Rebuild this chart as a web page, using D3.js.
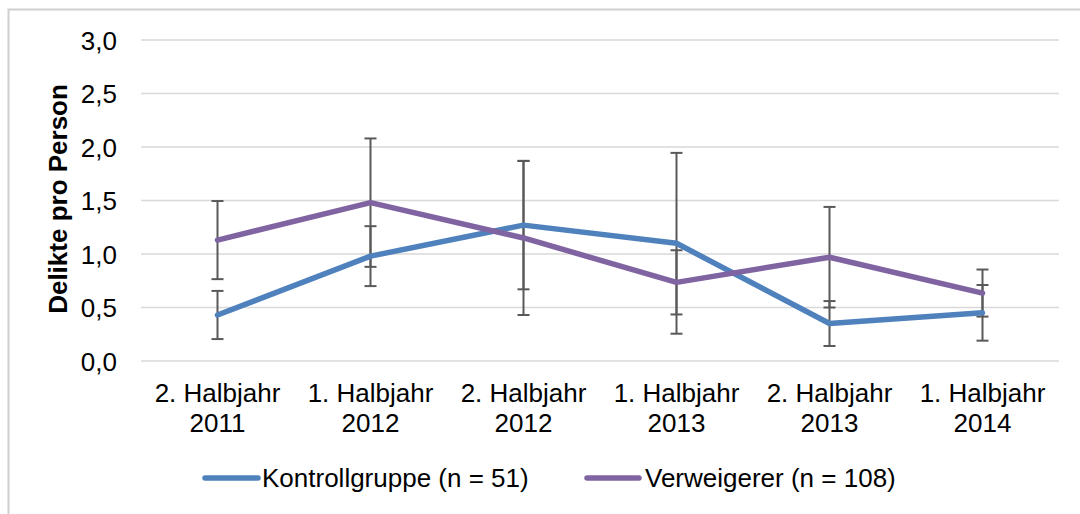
<!DOCTYPE html>
<html>
<head>
<meta charset="utf-8">
<script src="https://cdn.jsdelivr.net/npm/d3@7"></script>
<style>
  body { margin: 0; background: #fff; }
  svg { display: block; font-family: "Liberation Sans", Arial, sans-serif; }
</style>
</head>
<body>
<div id="chart"></div>
<script>
// Delikte pro Person, Halbjahre 2011-2014
const categories = [
  ["2. Halbjahr", "2011"],
  ["1. Halbjahr", "2012"],
  ["2. Halbjahr", "2012"],
  ["1. Halbjahr", "2013"],
  ["2. Halbjahr", "2013"],
  ["1. Halbjahr", "2014"]
];
const kontrollValues = [0.43, 0.98, 1.27, 1.10, 0.35, 0.45];
const kontrollErrors = [0.225, 0.28, 0.60, 0.845, 0.21, 0.26];
const verweigererValues = [1.13, 1.48, 1.15, 0.735, 0.97, 0.635];
const verweigererErrors = [0.365, 0.60, 0.72, 0.30, 0.47, 0.22];
const yTicks = [0, 0.5, 1.0, 1.5, 2.0, 2.5, 3.0];

const series = [
  { name: "Kontrollgruppe (n = 51)", color: "#4f81bd", values: kontrollValues, errors: kontrollErrors },
  { name: "Verweigerer (n = 108)", color: "#8064a2", values: verweigererValues, errors: verweigererErrors }
];

const W = 1080, H = 514;
const plot = { left: 141, right: 1059, top: 40, bottom: 361 };
const fs = "26px";

const svg = d3.select("#chart")
  .append("svg")
  .attr("width", W)
  .attr("height", H);

// outer chart border
svg.append("rect")
  .attr("x", 8.5).attr("y", 9.5)
  .attr("width", W + 20).attr("height", H + 20)
  .attr("fill", "#fff")
  .attr("stroke", "#d0d0d0")
  .attr("stroke-width", 2);

const x = d3.scaleBand()
  .domain(d3.range(categories.length))
  .range([plot.left, plot.right]);

const y = d3.scaleLinear()
  .domain([0, 3])
  .range([plot.bottom, plot.top]);

const cx = i => x(i) + x.bandwidth() / 2;

// gridlines
svg.append("g")
  .selectAll("line")
  .data(yTicks)
  .join("line")
  .attr("x1", plot.left).attr("x2", plot.right)
  .attr("y1", d => y(d)).attr("y2", d => y(d))
  .attr("stroke", "#d9d9d9")
  .attr("stroke-width", 1.5);

// y axis labels
const yAxis = d3.axisLeft(y)
  .tickValues(yTicks)
  .tickSize(0)
  .tickPadding(0)
  .tickFormat(d => d3.format(".1f")(d).replace(".", ","));

svg.append("g")
  .attr("transform", "translate(117,0)")
  .call(yAxis)
  .call(g => g.select(".domain").remove())
  .selectAll("text")
  .attr("fill", "#000")
  .style("font-size", fs)
  .attr("dy", "0.35em");

// y axis title
svg.append("text")
  .attr("transform", `translate(67,199) rotate(-90)`)
  .attr("text-anchor", "middle")
  .style("font-size", fs)
  .style("font-weight", "bold")
  .text("Delikte pro Person");

// x axis labels (two lines)
const xl = svg.append("g")
  .selectAll("text")
  .data(categories)
  .join("text")
  .attr("text-anchor", "middle")
  .attr("x", (d, i) => cx(i))
  .attr("y", 402)
  .style("font-size", fs);
xl.append("tspan").attr("x", (d, i) => cx(i)).text(d => d[0]);
xl.append("tspan").attr("x", (d, i) => cx(i)).attr("dy", 30).text(d => d[1]);

const line = d3.line()
  .x((d, i) => cx(i))
  .y(d => y(d));

// error bars
series.forEach(s => {
  const g = svg.append("g").attr("stroke", "#595959").attr("stroke-width", 2);
  s.values.forEach((v, i) => {
    const lo = y(v - s.errors[i]), hi = y(v + s.errors[i]);
    g.append("line").attr("x1", cx(i)).attr("x2", cx(i)).attr("y1", lo).attr("y2", hi);
    g.append("line").attr("x1", cx(i) - 6).attr("x2", cx(i) + 6).attr("y1", lo).attr("y2", lo);
    g.append("line").attr("x1", cx(i) - 6).attr("x2", cx(i) + 6).attr("y1", hi).attr("y2", hi);
  });
});

// lines
series.forEach(s => {
  svg.append("path")
    .datum(s.values)
    .attr("fill", "none")
    .attr("stroke", s.color)
    .attr("stroke-width", 5.5)
    .attr("stroke-linejoin", "round")
    .attr("stroke-linecap", "round")
    .attr("d", line);
});

// legend
const legendPos = [{ x1: 205, x2: 258, tx: 262 }, { x1: 587, x2: 639, tx: 645 }];
series.forEach((s, i) => {
  const p = legendPos[i];
  svg.append("line")
    .attr("x1", p.x1).attr("x2", p.x2)
    .attr("y1", 478).attr("y2", 478)
    .attr("stroke", s.color)
    .attr("stroke-width", 5.5)
    .attr("stroke-linecap", "round");
  svg.append("text")
    .attr("x", p.tx).attr("y", 487)
    .style("font-size", fs)
    .text(s.name);
});
</script>
</body>
</html>
